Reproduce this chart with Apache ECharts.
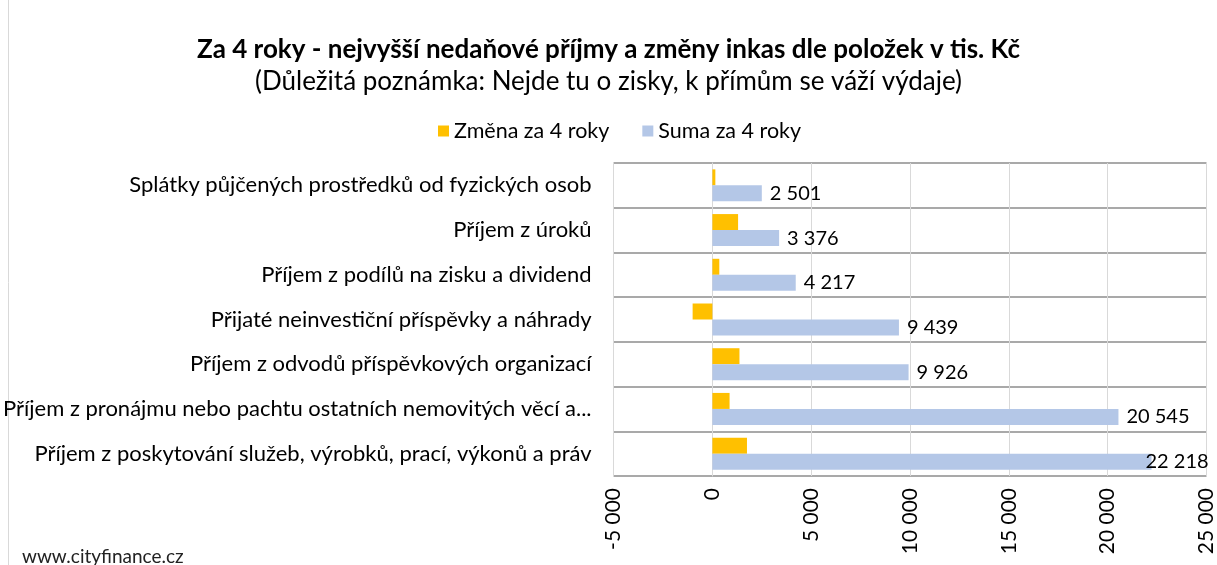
<!DOCTYPE html>
<html><head><meta charset="utf-8">
<script src="https://cdn.jsdelivr.net/npm/echarts@6/dist/echarts.min.js"></script>
<style>html,body{margin:0;padding:0;background:#fff}#c{width:1217px;height:565px}</style>
</head><body><div id="c"></div>
<script>
const categories = [
  "Splátky půjčených prostředků od fyzických osob",
  "Příjem z úroků",
  "Příjem z podílů na zisku a dividend",
  "Přijaté neinvestiční příspěvky a náhrady",
  "Příjem z odvodů příspěvkových organizací",
  "Příjem z pronájmu nebo pachtu ostatních nemovitých věcí a...",
  "Příjem z poskytování služeb, výrobků, prací, výkonů a práv"
];
const zmena = [150, 1300, 350, -1000, 1370, 870, 1750];
const suma = [2501, 3376, 4217, 9439, 9926, 20545, 22218];
const xTicks = {min: -5000, max: 25000, interval: 5000};
const FONT = 'Lato';
function fmt(v){ const s = Math.abs(Math.round(v)).toString().replace(/\B(?=(\d{3})+(?!\d))/g, ' '); return (v<0?'-':'') + s; }

const chart = echarts.init(document.getElementById('c'));
chart.setOption({
  animation: false,
  textStyle: {fontFamily: FONT},
  title: [
    {text: 'Za 4 roky - nejvyšší nedaňové příjmy a změny inkas dle položek v tis. Kč', left: 'center', top: 32,
     textStyle: {fontFamily: FONT, fontWeight: 'bold', fontSize: 26, color: '#000'}},
    {text: '(Důležitá poznámka: Nejde tu o zisky, k přímům se váží výdaje)', left: 'center', top: 64,
     textStyle: {fontFamily: FONT, fontWeight: 'normal', fontSize: 26, color: '#000'}},
    {text: 'www.cityfinance.cz', left: 17, top: 542, textStyle: {fontFamily: FONT, fontWeight: 'normal', fontSize: 19, color: '#222'}}
  ],
  legend: {top: 115, left: 433, itemWidth: 11, itemHeight: 11, itemGap: 33, icon: 'rect',
    textStyle: {fontFamily: FONT, fontSize: 21.5, color: '#000'}},
  grid: {left: 610, right: 7, top: 163, bottom: 89, containLabel: false},
  xAxis: {type: 'value', min: xTicks.min, max: xTicks.max, interval: xTicks.interval,
    axisLine: {show: false}, axisTick: {show: false},
    splitLine: {lineStyle: {color: '#d9d9d9', width: 1}},
    axisLabel: {rotate: 90, fontSize: 21, color: '#000', margin: 12, formatter: fmt}},
  yAxis: {type: 'category', data: categories, inverse: true,
    axisLine: {show: true, lineStyle: {color: '#d9d9d9'}}, axisTick: {show: false},
    splitLine: {show: true, lineStyle: {color: '#8c8c8c', width: 1.5}},
    axisLabel: {fontSize: 22, color: '#000', margin: 22}},
  series: [
    {name: 'Změna za 4 roky', type: 'bar', data: zmena, barWidth: 16, barGap: '0%',
     itemStyle: {color: '#FFC000'}},
    {name: 'Suma za 4 roky', type: 'bar', data: suma.map((v,i)=> i===6 ? {value: v, label: {offset: [-14, 0]}} : v), barWidth: 16,
     itemStyle: {color: '#B4C7E7'},
     label: {show: true, position: 'right', distance: 8, fontSize: 20, color: '#000', formatter: p => fmt(p.value)}}
  ],
  graphic: [{type: 'line', shape: {x1: 8.5, y1: 0, x2: 8.5, y2: 565}, style: {stroke: '#d9d9d9', lineWidth: 1}}]
});
</script></body></html>
